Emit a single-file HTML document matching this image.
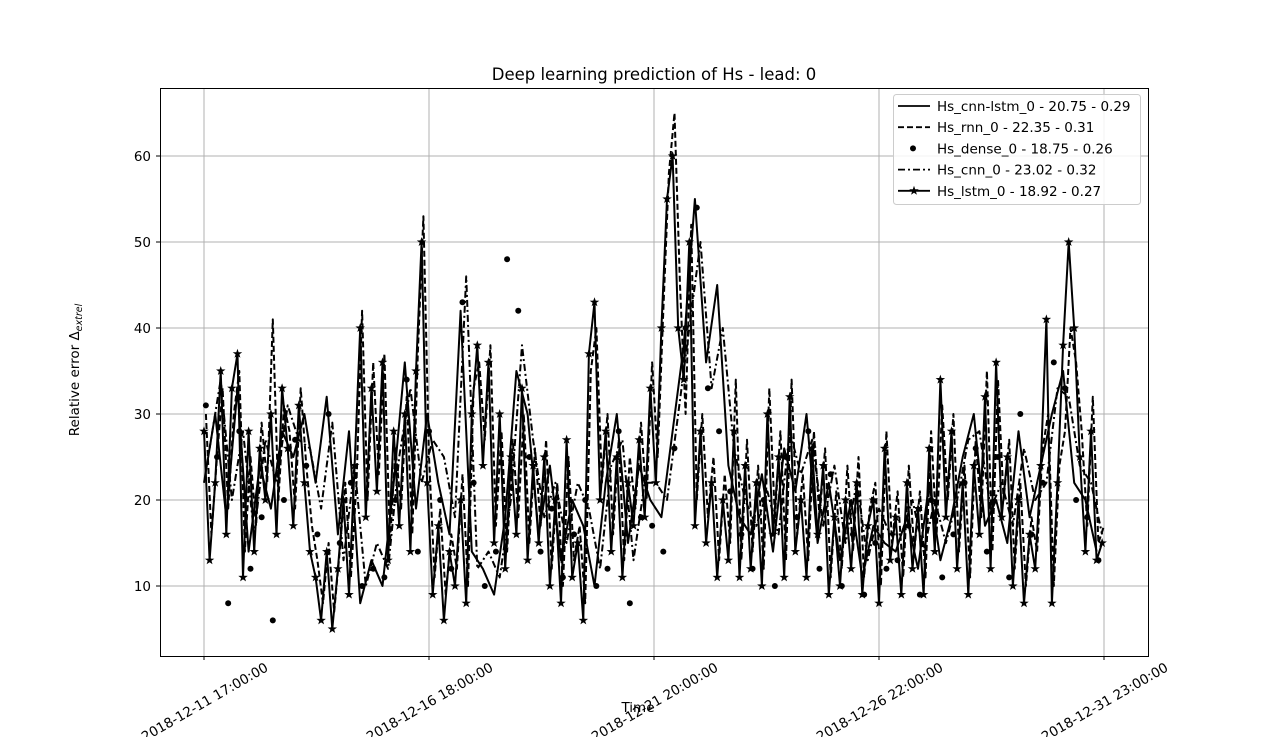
<!DOCTYPE html>
<html><head><meta charset="utf-8"><style>
body{margin:0;background:#fff;}
svg text{font-family:"DejaVu Sans","Liberation Sans",sans-serif;}
</style></head><body>
<svg id="chart" width="1276" height="737" xmlns="http://www.w3.org/2000/svg">
<rect width="1276" height="737" fill="#fff"/>
<g id="grid"></g>
<g id="series"></g>
<rect x="160.5" y="88.5" width="988" height="568" fill="none" stroke="#000" stroke-width="1"/>
<g id="axes"></g>
<text x="654" y="80" font-size="16.5" text-anchor="middle">Deep learning prediction of Hs - lead: 0</text>
<text x="638" y="712" font-size="13.5" text-anchor="middle">Time</text>
<text transform="translate(79,370) rotate(-90)" font-size="13.5" text-anchor="middle">Relative error Δ<tspan font-size="9.5" dy="3" font-style="italic">extrel</tspan></text>
<g id="legend"></g>
</svg>
<script>
const xTickLabels=["2018-12-11 17:00:00","2018-12-16 18:00:00","2018-12-21 20:00:00","2018-12-26 22:00:00","2018-12-31 23:00:00"];
const xTickHours=[0,121,242,363,484];
const yTicks=[10,20,30,40,50,60];
const legendLabels=["Hs_cnn-lstm_0 - 20.75 - 0.29","Hs_rnn_0 - 22.35 - 0.31","Hs_dense_0 - 18.75 - 0.26","Hs_cnn_0 - 23.02 - 0.32","Hs_lstm_0 - 18.92 - 0.27"];
const lstm=[28,13,22,35,16,33,37,11,28,14,26,20,30,16,33,26,17,31,22,14,11,6,14,5,12,20,9,24,40,18,33,21,36,13,28,17,30,14,35,50,22,9,17,6,14,10,20,8,30,38,24,36,15,30,12,25,16,33,13,24,15,25,10,20,8,27,11,15,6,37,43,20,28,14,25,11,22,17,27,18,33,22,40,55,60,40,34,50,17,28,15,22,11,20,13,28,11,24,12,22,10,30,16,25,11,32,14,20,11,26,16,24,9,18,10,20,12,22,9,17,20,8,26,13,18,9,22,12,19,9,26,14,34,18,28,12,22,9,24,16,32,12,36,18,25,10,20,8,16,12,24,41,8,22,38,50,40,25,14,28,13,15];
const rnn=[30,16,25,33,19,30,35,14,25,17,29,22,41,20,31,28,19,33,24,17,13,8,15,7,14,22,11,22,42,20,36,23,37,15,26,19,32,16,37,53,25,11,19,9,16,12,23,10,33,36,27,38,17,28,14,27,18,30,15,26,17,27,12,22,10,25,13,17,8,35,40,22,30,16,27,13,25,19,29,20,36,25,42,58,65,45,30,52,20,30,18,25,13,23,15,34,13,27,14,24,12,33,18,28,13,34,16,23,13,28,18,26,11,21,12,24,14,25,11,19,22,10,28,15,21,11,24,14,21,11,28,16,31,20,30,14,24,11,27,18,35,14,34,20,27,12,22,10,18,14,26,30,10,24,28,40,36,28,17,32,15,17];
const cnnLstm=[22,30,18,33,14,24,19,28,25,30,22,32,16,28,8,13,10,22,36,19,30,22,16,42,14,12,9,18,35,30,16,24,13,20,17,10,22,30,15,24,20,18,28,38,55,36,45,24,18,16,23,14,26,21,30,15,22,13,20,11,17,15,14,18,12,22,13,18,25,30,17,20,15,28,18,24,30,35,22,20,14];
const cnn=[26,34,20,28,16,27,22,31,27,26,19,29,13,24,10,15,12,25,33,22,27,25,18,46,12,14,11,20,38,27,18,22,15,22,19,12,24,27,13,22,22,20,30,40,50,33,40,26,20,17,21,16,28,23,27,17,24,15,22,13,19,16,16,20,14,20,15,20,27,28,19,22,17,26,20,22,33,32,24,22,16];
const dense=[31,25,8,28,12,18,6,20,27,24,16,30,15,22,10,12,11,20,34,14,28,20,12,43,22,10,14,48,42,25,14,19,11,16,20,10,12,28,8,18,17,14,26,40,54,33,28,21,16,12,20,10,25,18,28,12,23,10,16,9,15,12,13,17,9,20,11,16,22,26,14,25,11,30,16,22,36,33,20,18,13];

const NS="http://www.w3.org/2000/svg";
const X0=204,X1=1104,H1=484;
const xs=h=>X0+h*(X1-X0)/H1;
const ys=v=>672-v*8.6;
function mk(tag,attrs,parent){const e=document.createElementNS(NS,tag);for(const k in attrs)e.setAttribute(k,attrs[k]);parent.appendChild(e);return e;}
const grid=document.getElementById('grid'),axes=document.getElementById('axes'),ser=document.getElementById('series'),leg=document.getElementById('legend');

xTickHours.forEach((h,i)=>{
  const x=xs(h);
  const g=mk('line',{x1:x,x2:x,y1:88,y2:656,stroke:'#b0b0b0','stroke-width':1},grid);
  
  
  const t=mk('line',{x1:x,x2:x,y1:656,y2:660,stroke:'#000'},axes);
  
  
  const l=mk('text',{x:0,y:0,'font-size':13.5,'text-anchor':'middle',transform:`translate(${x+3},${706}) rotate(-30)`},axes);
  l.textContent=xTickLabels[i];
  
  
});
yTicks.forEach(v=>{
  const y=ys(v);
  const g=mk('line',{x1:160,x2:1148,y1:y,y2:y,stroke:'#b0b0b0','stroke-width':1},grid);
  
  
  const t=mk('line',{x1:156,x2:160,y1:y,y2:y,stroke:'#000'},axes);
  
  
  const l=mk('text',{x:151,y:y+5,'font-size':13.5,'text-anchor':'end'},axes);
  l.textContent=v;
  
  
});
function star(cx,cy,r){let p=[];for(let k=0;k<10;k++){const a=-Math.PI/2+k*Math.PI/5;const rr=k%2?r*0.4:r;p.push((cx+rr*Math.cos(a)).toFixed(1)+','+(cy+rr*Math.sin(a)).toFixed(1));}return p.join(' ');}
function line(vals,step,off,dash,name){
  const pts=vals.map((v,i)=>xs(off+i*step).toFixed(1)+','+ys(v).toFixed(1)).join(' ');
  const p=mk('polyline',{points:pts,fill:'none',stroke:'#000','stroke-width':2,'stroke-dasharray':dash,'stroke-linejoin':'round'},ser);
  
  
}
line(cnn,6,3,'7,3,2,3','series-cnn');
line(rnn,3,1,'6,3','series-rnn');
line(cnnLstm,6,0,'none','series-cnn-lstm');
line(lstm,3,0,'none','series-lstm');
dense.forEach((v,i)=>{
  const c=mk('circle',{cx:xs(1+i*6),cy:ys(v),r:3,fill:'#000'},ser);
  
  
});
lstm.forEach((v,i)=>{
  const s=mk('polygon',{points:star(xs(i*3),ys(v),5),fill:'#000'},ser);
  
  
});
const lb=mk('rect',{x:893.5,y:94.5,width:247,height:110,rx:3,fill:'#fff','fill-opacity':0.85,stroke:'#ccc'},leg);


const dashes=['none','6,3','dot','7,3,2,3','star'];
legendLabels.forEach((t,i)=>{
  const y=106+i*21.2;
  if(dashes[i]==='dot'){
    const c=mk('circle',{cx:913,cy:y,r:3,fill:'#000'},leg);
    
    
  }else{
    const l=mk('line',{x1:898,x2:930,y1:y,y2:y,stroke:'#000','stroke-width':1.8,'stroke-dasharray':dashes[i]==='star'?'none':dashes[i]},leg);
    
    
    if(dashes[i]==='star'){
      const s=mk('polygon',{points:star(914,y,5),fill:'#000'},leg);
      
      
    }
  }
  const tx=mk('text',{x:937,y:y+5,'font-size':13.5},leg);
  tx.textContent=t;
  
  
});
</script>
</body></html>
